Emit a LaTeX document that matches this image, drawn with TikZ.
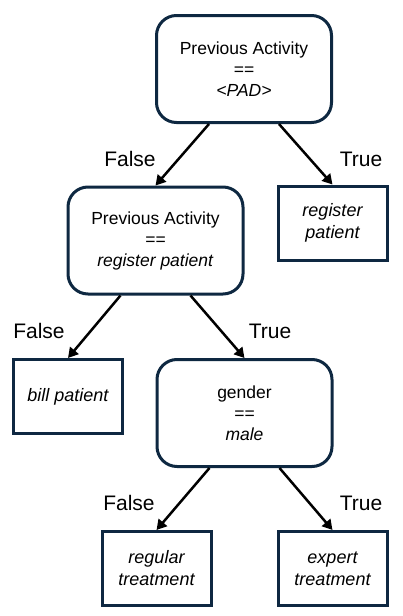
\documentclass[tikz,border=0pt]{standalone}
\usepackage{fontspec}
\setmainfont{Liberation Sans}
\usetikzlibrary{positioning,arrows.meta,calc}
\definecolor{boxcol}{HTML}{0E2841}
\newcommand{\twoway}[3]{% #1 parent, #2 false child, #3 true child
  \draw[edge] ($(#1.south)+(-35,0)$) -- (#2.north);
  \draw[edge] ($(#1.south)+(35,0)$) -- (#3.north);
}

\begin{document}
\begin{tikzpicture}[x=1pt,y=-1pt,
    decision/.style={draw=boxcol, line width=3pt, rounded corners=20pt,
      minimum width=175pt, minimum height=107pt, align=center, inner sep=0pt,
      font=\fontsize{17.5}{21}\selectfont},
    leaf/.style={draw=boxcol, line width=3pt, minimum width=109pt,
      minimum height=74pt, align=center, inner sep=0pt,
      font=\fontsize{18}{22}\selectfont\itshape},
    lbl/.style={font=\fontsize{21}{25}\selectfont},
    edge/.style={-{Triangle[length=10pt,width=11pt]}, line width=2.5pt, black}]
  \useasboundingbox (0,0) rectangle (402,616);
  % decisions
  \node[decision] (root) at (244,69) {Previous Activity\\==\\\textit{<PAD>}};
  \node[decision] (prev) at (155.5,240.5) {Previous Activity\\==\\\textit{register patient}};
  \node[decision] (gender) at (244.5,413) {gender\\==\\\textit{male}};
  % outcomes
  \node[leaf] (reg) at (332.5,223) {register\\patient};
  \node[leaf] (bill) at (68,396.5) {bill patient};
  \node[leaf] (regular) at (156.5,568.5) {regular\\treatment};
  \node[leaf] (expert) at (332.5,568.5) {expert\\treatment};
  % branches
  \twoway{root}{prev}{reg}
  \twoway{prev}{bill}{gender}
  \twoway{gender}{regular}{expert}
  \node[lbl] (f1) at (130,159) {False};
  \node[lbl] (t1) at (361,159) {True};
  \node[lbl] (f2) at (39,331) {False};
  \node[lbl] (t2) at (270,331) {True};
  \node[lbl] (f3) at (129,503) {False};
  \node[lbl] (t3) at (361,503) {True};
\end{tikzpicture}
\end{document}
